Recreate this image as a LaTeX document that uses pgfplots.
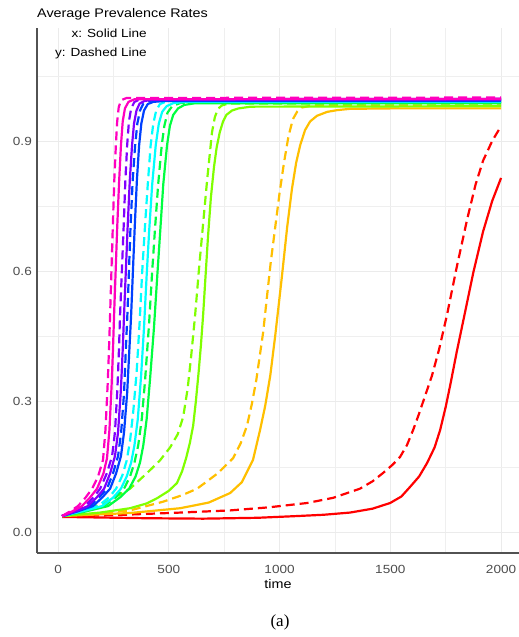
\documentclass[border=0pt]{standalone}
\usepackage{fontspec}
\setmainfont{Liberation Sans}
\newfontfamily\capfont{Liberation Serif}
\usepackage{pgfplots}
\pgfplotsset{compat=1.18}
\definecolor{cRed}{HTML}{FF0000}
\definecolor{cOrange}{HTML}{FFBF00}
\definecolor{cLime}{HTML}{80FF00}
\definecolor{cGreen}{HTML}{00FF40}
\definecolor{cCyan}{HTML}{00FFFF}
\definecolor{cBlue}{HTML}{0040FF}
\definecolor{cPurple}{HTML}{8000FF}
\definecolor{cMagenta}{HTML}{FF00BF}
\definecolor{gridc}{HTML}{EBEBEB}
\definecolor{tickc}{HTML}{4D4D4D}
\newcommand\sx[1]{\scalebox{1.15}[1]{#1}}
\begin{document}
\begin{tikzpicture}[x=1pt,y=1pt]
\useasboundingbox (0,0) rectangle (519,637);
\begin{axis}[
  at={(37pt,84pt)}, anchor=south west,
  scale only axis, width=482pt, height=525pt,
  xmin=-95, xmax=2081, ymin=-0.048, ymax=1.16,
  axis x line*=bottom, axis y line*=left,
  axis line style={black!68, line width=1.3pt, -},
  xtick={0,500,1000,1500,2000},
  xticklabels={\sx{0},\sx{500},\sx{1000},\sx{1500},\sx{2000}},
  ytick={0,0.3,0.6,0.9},
  yticklabels={\sx{0.0},\sx{0.3},\sx{0.6},\sx{0.9}},
  minor xtick={250,750,1250,1750},
  minor ytick={0.15,0.45,0.75,1.05},
  xmajorgrids, ymajorgrids, xminorgrids, yminorgrids,
  major grid style={gridc, line width=0.9pt},
  minor grid style={gridc!80, line width=0.6pt},
  major tick length=0pt, minor tick length=0pt,
  tick style={draw=none},
  xticklabel style={font=\fontsize{11.8}{12}\selectfont, text=tickc, anchor=north, inner sep=0pt, yshift=-12pt},
  yticklabel style={font=\fontsize{11.8}{12}\selectfont, text=tickc, anchor=east, inner sep=0pt, xshift=-5pt},
  every axis plot/.append style={line width=2.2pt, line join=round},
  clip=true,
]
% red
\addplot[cRed] coordinates {(18,0.035)(150,0.034)(400,0.032)(655,0.031)(900,0.033)(1079,0.037)(1200,0.040)(1318,0.045)(1420,0.054)(1499,0.067)(1550,0.082)(1589,0.104)(1630,0.128)(1666,0.159)(1700,0.195)(1725,0.235)(1750,0.288)(1772,0.342)(1800,0.415)(1837,0.505)(1875,0.598)(1919,0.692)(1960,0.762)(2000,0.815)};
\addplot[cRed, dash pattern=on 9pt off 5pt] coordinates {(18,0.036)(248,0.039)(551,0.045)(777,0.05)(950,0.057)(1124,0.067)(1242,0.079)(1363,0.10)(1420,0.117)(1467,0.136)(1510,0.155)(1544,0.173)(1575,0.20)(1603,0.235)(1628,0.27)(1648,0.30)(1688,0.36)(1720,0.42)(1756,0.50)(1800,0.61)(1847,0.72)(1885,0.80)(1919,0.855)(1960,0.90)(1995,0.93)};
% orange
\addplot[cOrange] coordinates {(18,0.037)(325,0.044)(551,0.055)(680,0.068)(777,0.09)(830,0.115)(880,0.166)(912,0.235)(935,0.29)(958,0.36)(980,0.45)(1000,0.54)(1011,0.59)(1034,0.70)(1056,0.79)(1075,0.85)(1093,0.89)(1115,0.925)(1138,0.945)(1169,0.958)(1215,0.967)(1260,0.971)(1318,0.974)(1500,0.975)(2000,0.975)};
\addplot[cOrange, dash pattern=on 9pt off 5pt] coordinates {(18,0.037)(150,0.042)(325,0.05)(474,0.07)(560,0.085)(628,0.10)(720,0.135)(790,0.17)(825,0.205)(853,0.245)(875,0.295)(895,0.35)(912,0.41)(926,0.46)(945,0.55)(960,0.62)(980,0.70)(1000,0.78)(1020,0.85)(1040,0.91)(1060,0.95)(1080,0.968)(1100,0.977)(1150,0.982)(2000,0.982)};
% lime
\addplot[cLime] coordinates {(18,0.037)(190,0.045)(325,0.055)(400,0.066)(447,0.078)(500,0.095)(537,0.113)(560,0.14)(578,0.17)(595,0.205)(610,0.245)(622,0.30)(635,0.37)(645,0.43)(655,0.50)(666,0.59)(677,0.68)(690,0.77)(704,0.84)(716,0.885)(730,0.92)(745,0.945)(760,0.96)(785,0.97)(815,0.975)(870,0.979)(2000,0.98)};
\addplot[cLime, dash pattern=on 9pt off 5pt] coordinates {(18,0.037)(120,0.05)(221,0.07)(325,0.10)(402,0.136)(460,0.165)(506,0.195)(540,0.225)(565,0.265)(585,0.33)(600,0.40)(619,0.50)(637,0.61)(655,0.71)(673,0.81)(685,0.87)(695,0.92)(708,0.955)(722,0.974)(740,0.982)(770,0.986)(2000,0.987)};
% green
\addplot[cGreen] coordinates {(18,0.037)(120,0.047)(226,0.06)(280,0.08)(321,0.10)(350,0.128)(370,0.16)(385,0.20)(400,0.26)(415,0.35)(433,0.47)(448,0.59)(461,0.69)(475,0.80)(492,0.89)(505,0.935)(520,0.96)(542,0.975)(570,0.983)(620,0.987)(2000,0.987)};
\addplot[cGreen, dash pattern=on 9pt off 5pt] coordinates {(18,0.037)(110,0.048)(208,0.06)(260,0.08)(298,0.10)(325,0.128)(345,0.16)(362,0.20)(378,0.26)(393,0.35)(411,0.48)(425,0.60)(438,0.70)(452,0.80)(468,0.89)(480,0.935)(494,0.965)(515,0.98)(550,0.987)(600,0.99)(2000,0.99)};
% cyan
\addplot[cCyan] coordinates {(18,0.037)(110,0.048)(199,0.06)(250,0.08)(284,0.10)(310,0.128)(330,0.16)(345,0.20)(360,0.26)(375,0.36)(388,0.47)(400,0.59)(411,0.69)(425,0.80)(441,0.89)(455,0.94)(470,0.967)(490,0.98)(520,0.987)(570,0.99)(2000,0.99)};
\addplot[cCyan, dash pattern=on 9pt off 5pt] coordinates {(18,0.037)(100,0.048)(181,0.06)(230,0.08)(262,0.10)(290,0.13)(310,0.165)(325,0.21)(340,0.28)(355,0.37)(368,0.48)(380,0.60)(392,0.70)(405,0.80)(418,0.89)(430,0.94)(443,0.97)(460,0.985)(490,0.991)(540,0.993)(2000,0.993)};
% blue
\addplot[cBlue] coordinates {(18,0.037)(90,0.048)(158,0.06)(200,0.08)(235,0.10)(262,0.135)(284,0.175)(298,0.23)(312,0.32)(322,0.42)(330,0.50)(338,0.60)(346,0.70)(356,0.81)(366,0.89)(376,0.94)(388,0.97)(405,0.985)(430,0.99)(480,0.992)(2000,0.992)};
\addplot[cBlue, dash pattern=on 9pt off 5pt] coordinates {(18,0.037)(85,0.048)(144,0.06)(185,0.08)(221,0.10)(248,0.135)(271,0.175)(285,0.23)(298,0.32)(306,0.42)(313,0.50)(320,0.60)(327,0.70)(337,0.81)(348,0.89)(358,0.94)(370,0.97)(385,0.986)(410,0.992)(450,0.995)(2000,0.995)};
% purple
\addplot[cPurple] coordinates {(18,0.037)(80,0.048)(135,0.06)(175,0.08)(208,0.10)(235,0.135)(257,0.175)(271,0.23)(284,0.33)(292,0.42)(298,0.50)(306,0.60)(314,0.70)(324,0.81)(334,0.89)(343,0.94)(354,0.97)(368,0.986)(390,0.992)(430,0.995)(2000,0.995)};
\addplot[cPurple, dash pattern=on 9pt off 5pt] coordinates {(18,0.037)(75,0.048)(122,0.06)(160,0.08)(190,0.10)(220,0.135)(244,0.175)(257,0.23)(268,0.33)(275,0.42)(280,0.50)(288,0.60)(296,0.70)(304,0.81)(312,0.89)(320,0.945)(330,0.975)(345,0.99)(370,0.996)(2000,0.997)};
% magenta
\addplot[cMagenta] coordinates {(18,0.037)(65,0.048)(108,0.06)(145,0.08)(176,0.10)(205,0.135)(221,0.17)(232,0.235)(242,0.34)(248,0.42)(253,0.50)(260,0.60)(267,0.70)(276,0.81)(284,0.89)(292,0.945)(302,0.975)(318,0.99)(345,0.996)(2000,0.997)};
\addplot[cMagenta, dash pattern=on 9pt off 5pt] coordinates {(18,0.037)(55,0.048)(90,0.06)(125,0.08)(154,0.10)(180,0.127)(203,0.166)(214,0.235)(224,0.34)(230,0.42)(235,0.50)(241,0.60)(247,0.70)(254,0.81)(261,0.89)(267,0.945)(274,0.978)(285,0.994)(310,0.999)(2000,1.0)};
\end{axis}
\node[anchor=base west, inner sep=0pt, font=\fontsize{12.5}{13}\selectfont] at (37,619) {\sx{Average Prevalence Rates}};
\node[anchor=base east, inner sep=0pt, font=\fontsize{11.8}{12}\selectfont] at (147,599) {\sx{x: Solid Line}};
\node[anchor=base east, inner sep=0pt, font=\fontsize{11.8}{12}\selectfont] at (147,580) {\sx{y: Dashed Line}};
\node[anchor=base, inner sep=0pt, font=\fontsize{12.5}{13}\selectfont] at (278,48) {\sx{time}};
\node[anchor=base, inner sep=0pt, font=\capfont\fontsize{17}{18}\selectfont] at (280,10) {(a)};
\end{tikzpicture}
\end{document}
